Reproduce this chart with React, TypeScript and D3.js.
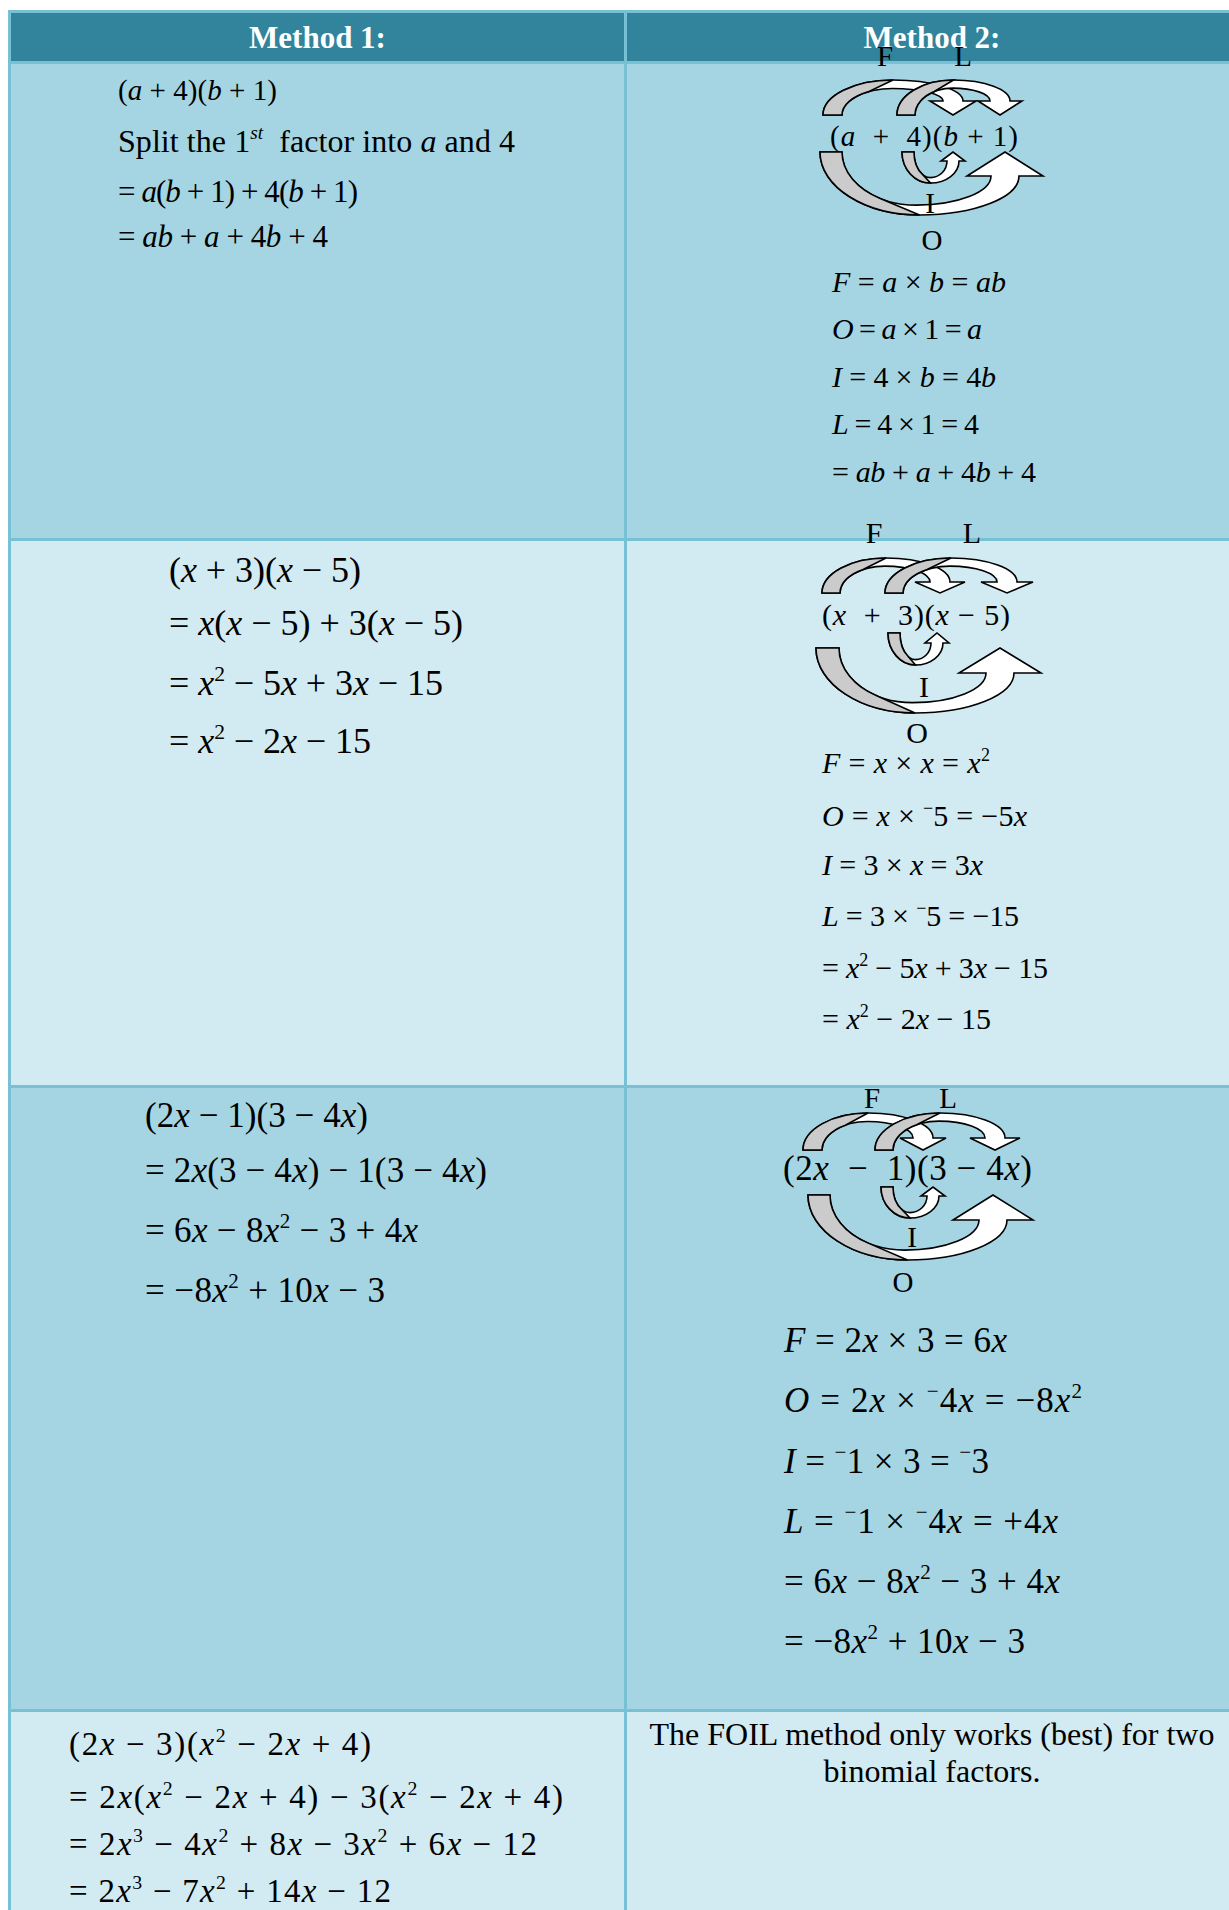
import React from "react";
import * as d3 from "d3";

// table text
const headers = ["Method 1:", "Method 2:"];

const row1Left = ["(a + 4)(b + 1)", "Split the 1^{st}  factor into *a* and 4", "= a(b + 1) + 4(b + 1)", "= ab + a + 4b + 4"];
const row2Left = ["(x + 3)(x − 5)", "= x(x − 5) + 3(x − 5)", "= x^2 − 5x + 3x − 15", "= x^2 − 2x − 15"];
const row3Left = ["(2x − 1)(3 − 4x)", "= 2x(3 − 4x) − 1(3 − 4x)", "= 6x − 8x^2 − 3 + 4x", "= −8x^2 + 10x − 3"];
const row4Left = ["(2x − 3)(x^2 − 2x + 4)", "= 2x(x^2 − 2x + 4) − 3(x^2 − 2x + 4)", "= 2x^3 − 4x^2 + 8x − 3x^2 + 6x − 12", "= 2x^3 − 7x^2 + 14x − 12"];

const row1Right = ["F = a × b = ab", "O = a × 1 = a", "I = 4 × b = 4b", "L = 4 × 1 = 4", "= ab + a + 4b + 4"];
const row2Right = ["F = x × x = x^2", "O = x × ~5 = −5x", "I = 3 × x = 3x", "L = 3 × ~5 = −15", "= x^2 − 5x + 3x − 15", "= x^2 − 2x − 15"];
const row3Right = ["F = 2x × 3 = 6x", "O = 2x × ~4x = −8x^2", "I = ~1 × 3 = ~3", "L = ~1 × ~4x = +4x", "= 6x − 8x^2 − 3 + 4x", "= −8x^2 + 10x − 3"];
const row4Note = ["The FOIL method only works (best) for two", "binomial factors."];

const foilExprs = ["(a  +  4)(b + 1)", "(x  +  3)(x − 5)", "(2x  −  1)(3 − 4x)"];
const foilLabels = ["F", "L", "I", "O"];

// layout
const W = 1229, H = 1910;
const FONT = "'Liberation Serif', 'Times New Roman', serif";
const colX = [8, 624, 1237];
const rowY = [10, 61, 538, 1085, 1709, 1960];
const fills = ["#31849B", "#A5D5E2", "#D2EAF1", "#A5D5E2", "#D2EAF1"];
const BORDER = "#78C0D4";

const leftBlocks = [
  { lines: row1Left, x: 118, ys: [100, 152, 202, 247], widths: [159, 397, 240, 210], sizes: [29, 32, 31, 31] },
  { lines: row2Left, x: 169, ys: [582, 635, 695, 753], widths: [192, 294, 274, 202], sizes: [36, 36, 36, 36] },
  { lines: row3Left, x: 145, ys: [1127, 1182, 1242, 1302], widths: [223, 342, 273, 240], sizes: [35, 35, 35, 35] },
  { lines: row4Left, x: 69, ys: [1755, 1808, 1855, 1902], widths: [302, 494, 468, 322], sizes: [33, 33, 33, 33] },
];
const rightBlocks = [
  { lines: row1Right, x: 832, ys: [292, 339, 387, 434, 482], widths: [174, 150, 164, 147, 204], sizes: [30, 30, 30, 30, 30] },
  { lines: row2Right, x: 822, ys: [773, 826, 875, 926, 978, 1029], widths: [168, 205, 161, 197, 226, 169], sizes: [30, 30, 30, 30, 30, 30] },
  { lines: row3Right, x: 784, ys: [1352, 1412, 1473, 1533, 1593, 1653], widths: [223, 298, 205, 274, 276, 241], sizes: [35, 35, 35, 35, 35, 35] },
];

type Arrow = { xL: number; w: number; yb: number; yt: number; tip: number; sh: number; hh: number; hH: number };
const diagrams: { x0: number; y0: number; size: number; width: number; labelSize: number; labels: number[][]; arrows: Arrow[] }[] = [
  {
    x0: 830, y0: 146, size: 29, width: 188, labelSize: 29,
    labels: [[55, -80], [133, -80], [100, 67], [102, 104]],
    arrows: [
      { xL: -7, w: 19, yb: -31, yt: -66, tip: 123, sh: 10, hh: 23, hH: 14 },
      { xL: 67, w: 18, yb: -31, yt: -66, tip: 170, sh: 10, hh: 22, hH: 14 },
      { xL: -10, w: 22, yb: 6, yt: 69, tip: 175, sh: 14, hh: 38, hH: 24 },
      { xL: 72, w: 12, yb: 6, yt: 37, tip: 123, sh: 6, hh: 12, hH: 9 },
    ],
  },
  {
    x0: 822, y0: 625, size: 30, width: 188, labelSize: 30,
    labels: [[52, -82], [150, -82], [102, 72], [95, 118]],
    arrows: [
      { xL: 0, w: 18, yb: -32, yt: -67, tip: 118, sh: 10, hh: 25, hH: 11 },
      { xL: 63, w: 18, yb: -32, yt: -67, tip: 185, sh: 10, hh: 26, hH: 11 },
      { xL: -6, w: 23, yb: 23, yt: 88, tip: 178, sh: 14, hh: 41, hH: 25 },
      { xL: 66, w: 12, yb: 8, yt: 40, tip: 115, sh: 6, hh: 12, hH: 10 },
    ],
  },
  {
    x0: 783, y0: 1180, size: 35, width: 249, labelSize: 29,
    labels: [[89, -72], [165, -72], [129, 67], [120, 112]],
    arrows: [
      { xL: 20, w: 19, yb: -30, yt: -67, tip: 140, sh: 10, hh: 23, hH: 12 },
      { xL: 92, w: 18, yb: -30, yt: -67, tip: 212, sh: 10, hh: 25, hH: 12 },
      { xL: 25, w: 22, yb: 15, yt: 80, tip: 210, sh: 14, hh: 40, hH: 25 },
      { xL: 98, w: 12, yb: 7, yt: 38, tip: 150, sh: 6, hh: 12, hH: 9 },
    ],
  },
];

type Run = { t: string; it: boolean; sup: boolean };
function parseRuns(s: string): Run[] {
  const math = !s.includes("*");
  const runs: Run[] = [];
  let ital = false;
  const push = (t: string, it: boolean, sup: boolean) => {
    const last = runs[runs.length - 1];
    if (last && last.it === it && last.sup === sup) last.t += t;
    else runs.push({ t, it, sup });
  };
  for (let i = 0; i < s.length; i++) {
    const c = s[i];
    if (c === "*") { ital = !ital; continue; }
    if (c === "~") { push("−", false, true); continue; }
    if (c === "^") {
      let g = "";
      if (s[i + 1] === "{") { const j = s.indexOf("}", i); g = s.slice(i + 2, j); i = j; }
      else { g = s[i + 1]; i++; }
      for (const ch of g) push(ch, /[a-z]/i.test(ch), true);
      continue;
    }
    push(c, math ? /[A-Za-z]/.test(c) : ital, false);
  }
  return runs;
}

function MathText({ s, x, y, size, width, anchor }: { s: string; x: number; y: number; size: number; width?: number; anchor?: string }) {
  const runs = parseRuns(s);
  let inSup = false;
  const lift = size * 0.4;
  return (
    <text x={x} y={y} fontSize={size} fontFamily={FONT} fill="#000" textAnchor={anchor || "start"}
      textLength={width} lengthAdjust={width ? "spacing" : undefined} style={{ whiteSpace: "pre" }}>
      {runs.map((r, i) => {
        let dy = 0;
        if (r.sup && !inSup) dy = -lift;
        if (!r.sup && inSup) dy = lift;
        inSup = r.sup;
        return (
          <tspan key={i} dy={dy || undefined} fontStyle={r.it ? "italic" : "normal"} fontSize={r.sup ? size * 0.6 : size}>
            {r.t}
          </tspan>
        );
      })}
    </text>
  );
}

type Pt = [number, number];
function splitBezier(p: Pt[], t: number): Pt[] {
  const lerp = (a: Pt, b: Pt): Pt => [a[0] + (b[0] - a[0]) * t, a[1] + (b[1] - a[1]) * t];
  const a = lerp(p[0], p[1]), b = lerp(p[1], p[2]), c = lerp(p[2], p[3]);
  const d = lerp(a, b), e = lerp(b, c), m = lerp(d, e);
  return [p[0], a, d, m];
}

function arrowPaths(a: Arrow, ox: number, oy: number) {
  const k = 0.552;
  const xL = ox + a.xL, yb = oy + a.yb, yt = oy + a.yt, tip = ox + a.tip;
  const dir = Math.sign(yt - yb);
  const yh = yb + dir * a.hH;
  const xo = tip + a.sh, xi = tip - a.sh;
  const xm = (xL + xo) / 2;
  const xr = xL + a.w;
  const yti = yt - dir * a.w * 0.45;
  const xmi = (xr + xi) / 2;
  const O1: Pt[] = [[xL, yb], [xL, yb + k * (yt - yb)], [xm - k * (xm - xL), yt], [xm, yt]];
  const O2: Pt[] = [[xm, yt], [xm + k * (xo - xm), yt], [xo, yh + k * (yt - yh)], [xo, yh]];
  const I1: Pt[] = [[xr, yb], [xr, yb + k * (yti - yb)], [xmi - k * (xmi - xr), yti], [xmi, yti]];
  const I2: Pt[] = [[xmi, yti], [xmi + k * (xi - xmi), yti], [xi, yh + k * (yti - yh)], [xi, yh]];

  const white = d3.path();
  white.moveTo(...O1[0]);
  white.bezierCurveTo(...O1[1], ...O1[2], ...O1[3]);
  white.bezierCurveTo(...O2[1], ...O2[2], ...O2[3]);
  white.lineTo(tip + a.hh, yh);
  white.lineTo(tip, yb);
  white.lineTo(tip - a.hh, yh);
  white.lineTo(xi, yh);
  white.bezierCurveTo(...I2[2], ...I2[1], ...I2[0]);
  white.bezierCurveTo(...I1[2], ...I1[1], ...I1[0]);
  white.closePath();

  const part = splitBezier(I1, 0.68);
  const gray = d3.path();
  gray.moveTo(...O1[0]);
  gray.bezierCurveTo(...O1[1], ...O1[2], ...O1[3]);
  gray.lineTo(...part[3]);
  gray.bezierCurveTo(...part[2], ...part[1], ...part[0]);
  gray.closePath();
  return { white: white.toString(), gray: gray.toString() };
}

export default function App() {
  const xs = d3.scaleOrdinal<string, number>().domain(headers).range([(colX[0] + colX[1] + 3) / 2, (colX[1] + colX[2] + 3) / 2]);
  return (
    <svg width={W} height={H} style={{ position: "absolute", left: 0, top: 0, background: "#fff" }}>
      {/* row backgrounds */}
      {fills.map((f, i) => (
        <rect key={i} x={colX[0]} y={rowY[i]} width={colX[2] + 3 - colX[0]} height={rowY[i + 1] - rowY[i] + 3} fill={f} />
      ))}
      {/* borders */}
      {rowY.slice(0, 5).map((y, i) => (
        <rect key={"h" + i} x={colX[0]} y={y} width={colX[2] + 3 - colX[0]} height={3} fill={BORDER} />
      ))}
      {colX.map((x, i) => (
        <rect key={"v" + i} x={x} y={rowY[0]} width={3} height={H} fill={BORDER} />
      ))}

      {headers.map((h) => (
        <text key={h} x={xs(h)} y={48} textAnchor="middle" fontFamily={FONT} fontWeight="bold" fontSize={31} fill="#fff">{h}</text>
      ))}

      {leftBlocks.concat(rightBlocks).map((b, bi) =>
        b.lines.map((s, i) => (
          <MathText key={bi + "-" + i} s={s} x={b.x} y={b.ys[i]} size={b.sizes[i]} width={b.widths[i]} />
        ))
      )}

      {row4Note.map((s, i) => (
        <text key={"n" + i} x={xs(headers[1])} y={1745 + i * 37} textAnchor="middle" fontFamily={FONT} fontSize={32} fill="#000">{s}</text>
      ))}

      {diagrams.map((d, di) => (
        <g key={"d" + di}>
          {d.arrows.map((a, ai) => {
            const p = arrowPaths(a, d.x0, d.y0);
            return (
              <g key={ai} stroke="#000" strokeWidth={1.6} strokeLinejoin="miter">
                <path d={p.white} fill="#fff" />
                <path d={p.gray} fill="#CBCBCB" />
              </g>
            );
          })}
          <MathText s={foilExprs[di]} x={d.x0} y={d.y0} size={d.size} width={d.width} />
          {foilLabels.map((l, li) => (
            <text key={l} x={d.x0 + d.labels[li][0]} y={d.y0 + d.labels[li][1]} textAnchor="middle" fontFamily={FONT} fontSize={d.labelSize} fill="#000">{l}</text>
          ))}
        </g>
      ))}
    </svg>
  );
}
